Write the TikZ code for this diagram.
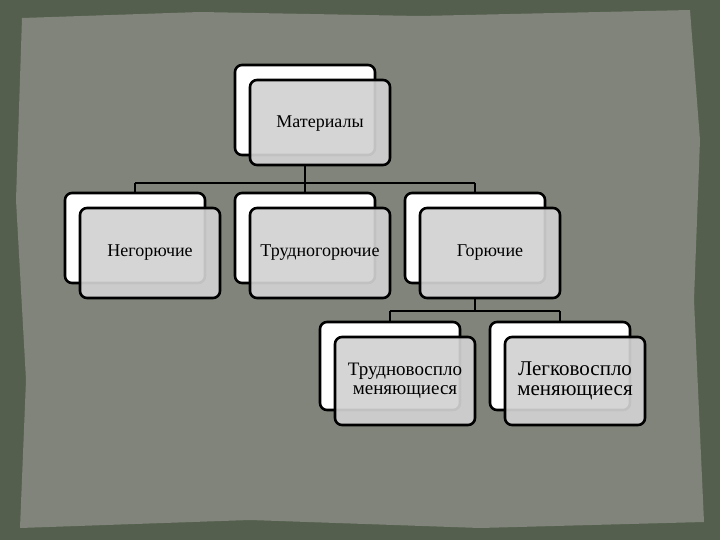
\documentclass[tikz,border=0pt]{standalone}
\usepackage{fontspec}
\setmainfont{Liberation Serif}
\begin{document}
\begin{tikzpicture}[x=1pt,y=-1pt,
  back/.style={draw=black,line width=2.6pt,fill=white,rounded corners=7pt},
  front/.style={draw=black,line width=2.6pt,fill=gray!35!white,fill opacity=0.92,rounded corners=7pt},
  conn/.style={draw=black,line width=2.2pt},
  lbl/.style={font=\fontsize{18}{19}\selectfont,align=center,text=black}]
\fill[fill={rgb,255:red,84;green,96;blue,77}] (0,0) rectangle (720,540);
\useasboundingbox (0,0) rectangle (720,540);
\fill[fill={rgb,255:red,128;green,132;blue,122}] (22,18) -- (200,12) -- (420,16) -- (690,10) -- (700,140) -- (694,300) -- (704,522) -- (480,528) -- (250,520) -- (20,528) -- (26,380) -- (16,200) -- cycle;
% connectors
\coordinate (h1l) at (135,183); \coordinate (h1r) at (475,183);
\coordinate (h1c) at (305,183);
\coordinate (h2l) at (390,311); \coordinate (h2r) at (560,311);
\coordinate (h2c) at (475,311);
% top
\node[back,minimum width=140pt,minimum height=90pt] (mb) at (305,110) {};
\draw[conn] (305,165) -- (h1c);
\draw[conn] (h1l) -- (h1r);
\foreach \x in {135,305,475} \draw[conn] (\x,183) -- (\x,195);
\draw[conn] (475,298) -- (h2c);
\draw[conn] (h2l) -- (h2r);
\foreach \x in {390,560} \draw[conn] (\x,311) -- (\x,324);
\node[front,minimum width=140pt,minimum height=85pt] (m) at (320,122.5) {};
\node[lbl] (mt) at (320,124) {Материалы};
% row 2
\node[back,minimum width=140pt,minimum height=90pt] (b1) at (135,238) {};
\node[front,minimum width=140pt,minimum height=90pt] (f1) at (150,253) {};
\node[lbl] (t1) at (150,253) {Негорючие};
\node[back,minimum width=140pt,minimum height=90pt] (b2) at (305,238) {};
\node[front,minimum width=140pt,minimum height=90pt] (f2) at (320,253) {};
\node[lbl] (t2) at (320,253) {Трудногорючие};
\node[back,minimum width=140pt,minimum height=90pt] (b3) at (475,238) {};
\node[front,minimum width=140pt,minimum height=90pt] (f3) at (490,253) {};
\node[lbl] (t3) at (490,253) {Горючие};
% row 3
\node[back,minimum width=140pt,minimum height=88pt] (b4) at (390,366) {};
\node[front,minimum width=140pt,minimum height=88pt] (f4) at (405,381) {};
\node[lbl,font=\fontsize{19}{19}\selectfont] (t4) at (405,381) {Трудновоспло\\меняющиеся};
\node[back,minimum width=140pt,minimum height=88pt] (b5) at (560,366) {};
\node[front,minimum width=140pt,minimum height=88pt] (f5) at (575,381) {};
\node[lbl,font=\fontsize{21}{20}\selectfont] (t5) at (575,381) {Легковоспло\\меняющиеся};
\end{tikzpicture}
\end{document}
